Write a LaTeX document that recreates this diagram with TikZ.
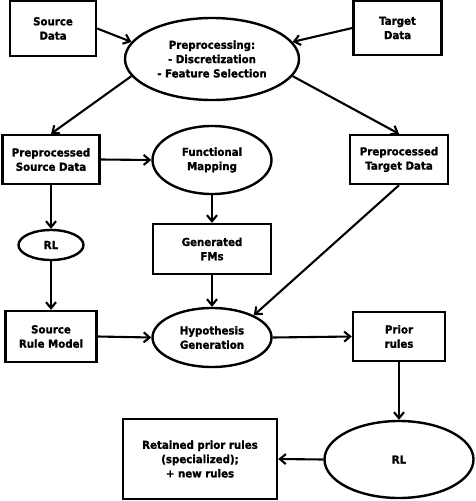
\documentclass[tikz,border=0pt]{standalone}
\usepackage{fontspec}
\setmainfont{DejaVu Sans}[BoldFeatures={FakeStretch=0.93,FakeBold=1.2}]
\usetikzlibrary{shapes.geometric,arrows.meta}
\begin{document}
\begin{tikzpicture}[x=1pt,y=-1pt,
  every node/.style={font=\fontsize{11}{14.3}\selectfont\bfseries, align=center, inner sep=0pt, line width=2.4pt, draw},
  boxnode/.style={rectangle},
  ellnode/.style={ellipse},
  conn/.style={line width=2.1pt, -{Straight Barb[length=6pt,width=10pt,line width=2.1pt]}}]
\useasboundingbox (0,0) rectangle (475,501);
\node[boxnode, minimum width=86pt, minimum height=55pt] (src) at (53,28.5) {Source\\Data};
\node[boxnode, minimum width=88pt, minimum height=54pt] (tgt) at (397.5,28) {Target\\Data};
\node[ellnode, minimum width=174pt, minimum height=82pt] (pre) at (212,59) {Preprocessing:\\- Discretization\\- Feature Selection};
\node[boxnode, minimum width=97pt, minimum height=49pt] (psd) at (51,159.5) {Preprocessed\\Source Data};
\node[ellnode, minimum width=119pt, minimum height=68pt] (fm) at (212,160) {Functional\\Mapping};
\node[boxnode, minimum width=98pt, minimum height=49pt] (ptd) at (399,159.5) {Preprocessed\\Target Data};
\node[ellnode, minimum width=65pt, minimum height=30pt] (rla) at (51,245) {RL};
\node[boxnode, minimum width=118pt, minimum height=50pt] (gen) at (212,249) {Generated\\FMs};
\node[boxnode, minimum width=91pt, minimum height=51pt] (srm) at (51,336.5) {Source\\Rule Model};
\node[ellnode, minimum width=119pt, minimum height=59pt] (hg) at (212,337.5) {Hypothesis\\Generation};
\node[boxnode, minimum width=92pt, minimum height=49pt] (prior) at (399,336.5) {Prior\\rules};
\node[ellnode, minimum width=149pt, minimum height=77pt] (rlb) at (399,459.5) {RL};
\node[boxnode, minimum width=154pt, minimum height=80pt] (ret) at (200,459) {Retained prior rules\\(specialized);\\+ new rules};
\draw[conn] (src.east) -- (pre.168);
\draw[conn] (tgt.west) -- (pre.12);
\draw[conn] (pre.192) -- (psd.north);
\draw[conn] (pre.348) -- (ptd.north);
\draw[conn] (psd.east) -- (fm.west);
\draw[conn] (psd.south) -- (rla.north);
\draw[conn] (fm.south) -- (gen.north);
\draw[conn] (rla.south) -- (srm.north);
\draw[conn] (gen.south) -- (hg.north);
\draw[conn] (ptd.south) -- (hg.28);
\draw[conn] (srm.east) -- (hg.west);
\draw[conn] (hg.east) -- (prior.west);
\draw[conn] (prior.south) -- (rlb.north);
\draw[conn] (rlb.west) -- (ret.east);
\end{tikzpicture}
\end{document}
